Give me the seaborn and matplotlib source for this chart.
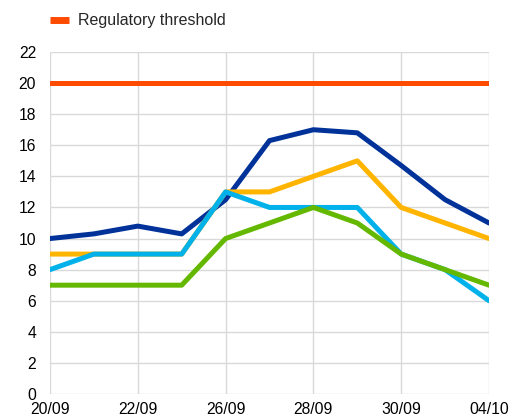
import matplotlib
matplotlib.use("Agg")
import matplotlib.pyplot as plt
import seaborn as sns
import pandas as pd
from matplotlib.lines import Line2D

dates = ["20/09", "21/09", "22/09", "23/09", "26/09", "27/09", "28/09", "29/09", "30/09", "03/10", "04/10"]
dark_blue = [10.0, 10.3, 10.8, 10.3, 12.5, 16.3, 17.0, 16.8, 14.7, 12.5, 11.0]
yellow = [9, 9, 9, 9, 13, 13, 14, 15, 12, 11, 10]
light_blue = [8, 9, 9, 9, 13, 12, 12, 12, 9, 8, 6]
green = [7, 7, 7, 7, 10, 11, 12, 11, 9, 8, 7]
threshold = [20] * 11
tick_labels = ["20/09", "22/09", "26/09", "28/09", "30/09", "04/10"]

series = {
    "Series A": dark_blue,
    "Series B": yellow,
    "Series C": light_blue,
    "Series D": green,
    "Regulatory threshold": threshold,
}
colors = {
    "Series A": "#003299",
    "Series B": "#FFB400",
    "Series C": "#00B1EA",
    "Series D": "#65B800",
    "Regulatory threshold": "#FF4B00",
}

rows = []
for name, vals in series.items():
    for i, (d, v) in enumerate(zip(dates, vals)):
        rows.append({"idx": i, "date": d, "value": v, "series": name})
df = pd.DataFrame(rows)

sns.set_style("white")
plt.rcParams["font.family"] = ["Liberation Sans", "DejaVu Sans"]

fig = plt.figure(figsize=(5.09, 4.19), dpi=100)
ax = fig.add_axes([50 / 509, 1 - 394 / 419, 439 / 509, 342 / 419])

sns.lineplot(data=df, x="idx", y="value", hue="series", palette=colors,
             hue_order=["Series A", "Series B", "Series C", "Series D", "Regulatory threshold"],
             linewidth=3.6, ax=ax, legend=False)

ax.set_xlim(0, len(dates) - 1)
ax.set_ylim(0, 22)
ax.set_yticks(range(0, 23, 2))
ax.set_xticks([0, 2, 4, 6, 8, 10])
ax.set_xticklabels(tick_labels)
ax.set_xlabel("")
ax.set_ylabel("")
ax.grid(True, color="#d9d9d9", linewidth=1)
ax.set_axisbelow(True)
for s in ax.spines.values():
    s.set_visible(False)
ax.tick_params(axis="both", length=0, labelsize=11.3, colors="black")
ax.tick_params(axis="y", pad=10)
ax.tick_params(axis="x", pad=6)
for lab in ax.get_xticklabels():
    lab.set_clip_on(False)

handle = Line2D([0], [0], color="#FF4B00", linewidth=5, solid_capstyle="butt")
fig.legend([handle], ["Regulatory threshold"], loc="center left",
           bbox_to_anchor=(36 / 509, 1 - 21 / 419), frameon=False,
           fontsize=11.5, handlelength=1.15, handletextpad=0.6)

fig.savefig("out.png", dpi=100)
